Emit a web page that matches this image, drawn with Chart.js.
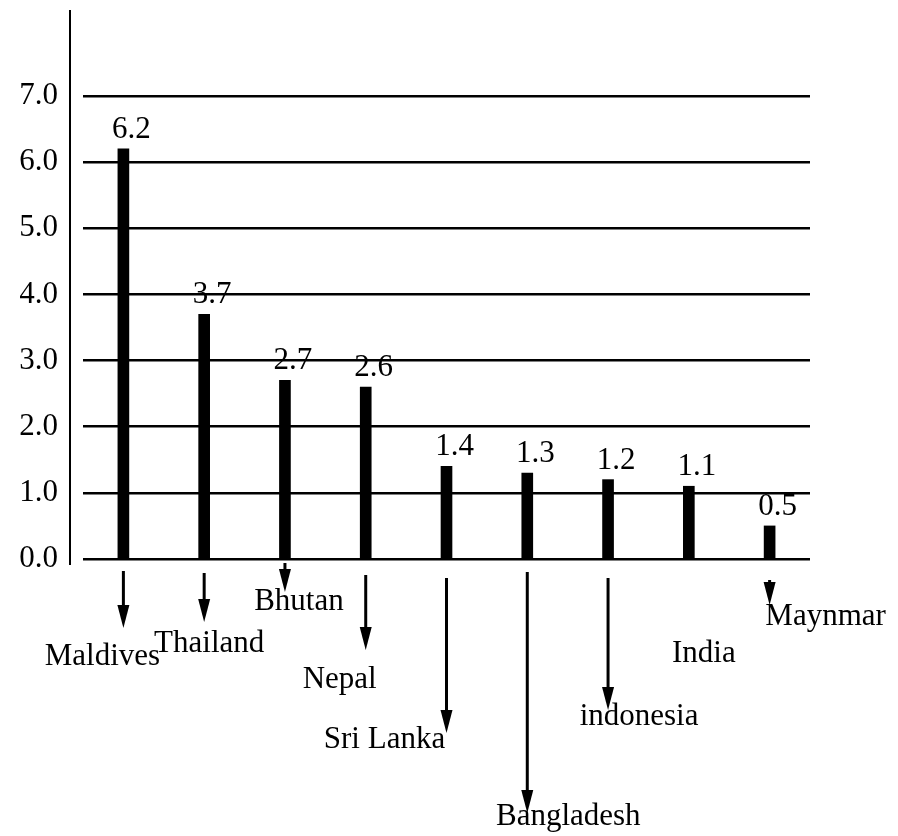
<!DOCTYPE html>
<html>
<head>
<meta charset="utf-8">
<script src="https://cdn.jsdelivr.net/npm/chart.js@4/dist/chart.umd.min.js"></script>
<style>
    html, body { margin: 0; padding: 0; background: #ffffff; }
    #chartCanvas { display: block; }
</style>
</head>
<body>
<canvas id="chartCanvas" width="898" height="836"></canvas>
<script>
// Chart data
const countries = ['Maldives', 'Thailand', 'Bhutan', 'Nepal', 'Sri Lanka', 'Bangladesh', 'indonesia', 'India', 'Maynmar'];
const values = [6.2, 3.7, 2.7, 2.6, 1.4, 1.3, 1.2, 1.1, 0.5];
const tickLabels = ['0.0', '1.0', '2.0', '3.0', '4.0', '5.0', '6.0', '7.0'];

// Callout layout below the axis (pixels relative to the bar / baseline)
const arrowStart = [12, 14, 4, 16, 19, 13, 19, null, 21];
const arrowEnd = [69, 63, 33, 91, 174, 254, 151, null, 46];
const labelDrop = [106, 93, 51, 129, 189, 266, 166, 103, 66];
const labelShift = [-21, 5, 14, -26, -62, 41, 31, 15, 56];

const FONT = "'Liberation Serif', 'Times New Roman', serif";
const FONT_SIZE = 31;
Chart.defaults.font.family = FONT;
Chart.defaults.color = '#000';

// Draws the vertical axis line, value labels and the arrow callouts
const calloutPlugin = {
    id: 'callouts',
    afterDraw(chart) {
        try {
            const ctx = chart.ctx;
            const area = chart.chartArea;
            const base = chart.scales.y.getPixelForValue(0);
            const bars = chart.getDatasetMeta(0).data;

            ctx.save();
            ctx.strokeStyle = '#000';
            ctx.fillStyle = '#000';

            // axis line, drawn a little left of the grid
            ctx.lineWidth = 2;
            ctx.beginPath();
            ctx.moveTo(area.left - 13, area.top);
            ctx.lineTo(area.left - 13, base + 6);
            ctx.stroke();

            ctx.font = FONT_SIZE + 'px ' + FONT;
            ctx.textAlign = 'center';
            ctx.textBaseline = 'alphabetic';

            bars.forEach((bar, i) => {
                // value above the bar
                ctx.fillText(values[i].toFixed(1), bar.x + 8, bar.y - 11);

                // arrow pointing to the country name
                if (arrowStart[i] != null) {
                    const y0 = base + arrowStart[i];
                    const y1 = base + arrowEnd[i];
                    ctx.lineWidth = 3;
                    ctx.beginPath();
                    ctx.moveTo(bar.x, y0);
                    ctx.lineTo(bar.x, y1 - 10);
                    ctx.stroke();
                    ctx.beginPath();
                    ctx.moveTo(bar.x - 6, y1 - 23);
                    ctx.lineTo(bar.x + 6, y1 - 23);
                    ctx.lineTo(bar.x, y1);
                    ctx.closePath();
                    ctx.fill();
                }

                ctx.fillText(countries[i], bar.x + labelShift[i], base + labelDrop[i]);
            });
            ctx.restore();
        } catch (e) {
            console.error(e);
        }
    }
};

let chart;

function loadChart() {
    try {
        const ctx = document.getElementById('chartCanvas').getContext('2d');
        chart = new Chart(ctx, {
            type: 'bar',
            data: {
                labels: countries,
                datasets: [{
                    data: values,
                    backgroundColor: '#000',
                    barThickness: 11
                }]
            },
            options: {
                responsive: false,
                animation: false,
                layout: { padding: { top: 10, left: 20, right: 88, bottom: 277 } },
                plugins: {
                    legend: { display: false },
                    tooltip: { enabled: false }
                },
                scales: {
                    x: {
                        display: false,
                        offset: true
                    },
                    y: {
                        min: 0,
                        max: 8.3,
                        afterBuildTicks: (scale) => {
                            scale.ticks = scale.ticks.filter(t => t.value <= 7 && Number.isInteger(t.value));
                        },
                        // fixed axis width so the grid starts just right of the axis line
                        afterFit: (scale) => {
                            scale.width = 63;
                            scale.paddingTop = 0;
                            scale.paddingBottom = 0;
                        },
                        ticks: {
                            stepSize: 1,
                            padding: 25,
                            font: { size: FONT_SIZE, family: FONT },
                            color: '#000',
                            callback: (value) => tickLabels[value]
                        },
                        grid: {
                            color: '#000',
                            lineWidth: 2.5,
                            drawTicks: false
                        },
                        border: { display: false }
                    }
                }
            },
            plugins: [calloutPlugin]
        });
    } catch (e) {
        console.error(e);
    }
}

loadChart();
</script>
</body>
</html>
